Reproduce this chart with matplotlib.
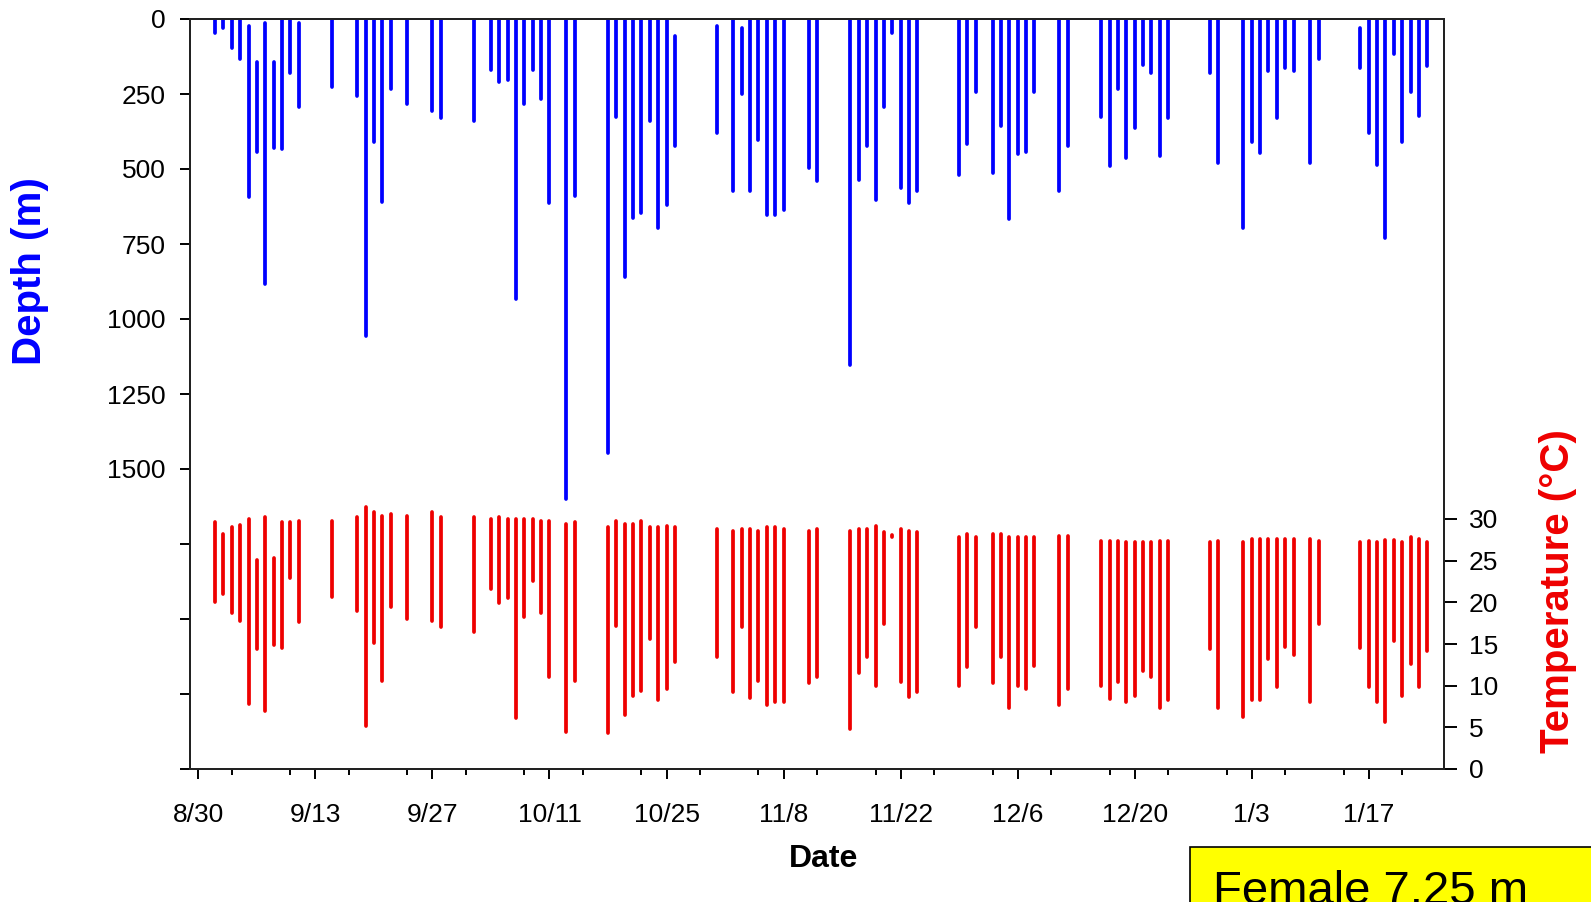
import matplotlib
matplotlib.use("Agg")
import matplotlib.pyplot as plt
from matplotlib.patches import Rectangle

plt.rcParams['font.family'] = ['Liberation Sans', 'DejaVu Sans']

# Day offsets from 8/30
days = [2, 3, 4, 5, 6, 7, 8, 9, 10, 11, 12, 16, 19, 20, 21, 22, 23, 25, 28, 29,
        33, 35, 36, 37, 38, 39, 40, 41, 42, 44, 45, 49, 50, 51, 52, 53, 54, 55, 56, 57,
        62, 64, 65, 66, 67, 68, 69, 70, 73, 74, 78, 79, 80, 81, 82, 83, 84, 85, 86,
        91, 92, 93, 95, 96, 97, 98, 99, 100, 103, 104, 108, 109, 110, 111, 112, 113, 114,
        115, 116, 121, 122, 125, 126, 127, 128, 129, 130, 131, 133, 134, 139, 140, 141,
        142, 143, 144, 145, 146, 147]

depth_min = [0, 0, 0, 0, 23, 142, 12, 142, 0, 0, 12, 0, 0, 0, 0, 0, 0, 0, 0, 0,
             0, 0, 0, 0, 0, 0, 0, 0, 0, 0, 0, 0, 0, 0, 0, 0, 0, 0, 0, 57,
             23, 0, 31, 0, 0, 0, 0, 0, 0, 0, 0, 0, 0, 0, 0, 0, 0, 0, 0,
             0, 0, 0, 0, 0, 0, 0, 0, 0, 0, 0, 0, 0, 0, 0, 0, 0, 0,
             0, 0, 0, 0, 0, 0, 0, 0, 0, 0, 0, 0, 0, 31, 0, 0,
             0, 0, 0, 0, 0, 0]

depth_max = [45, 30, 95, 133, 594, 442, 884, 431, 432, 179, 292, 227, 258, 1057, 409, 611, 233, 284, 308, 331,
             340, 170, 209, 203, 933, 284, 170, 267, 612, 1600, 590, 1448, 326, 861, 663, 646, 341, 698, 620, 423,
             381, 572, 251, 572, 403, 653, 653, 637, 498, 539, 1153, 537, 422, 603, 292, 46, 562, 612, 572,
             520, 417, 242, 514, 357, 668, 450, 442, 244, 572, 423, 326, 489, 234, 464, 362, 154, 179,
             457, 331, 179, 481, 698, 409, 448, 172, 331, 164, 172, 481, 134, 162, 381, 487,
             729, 116, 409, 244, 323, 155]

temp_max = [29.6, 28.2, 29.0, 29.3, 30.0, 25.1, 30.2, 25.3, 29.6, 29.6, 29.8, 29.8, 30.2, 31.4, 30.8, 30.4, 30.6, 30.4, 30.8, 30.2,
            30.2, 30.0, 30.2, 30.0, 30.0, 30.0, 30.0, 29.8, 29.8, 29.4, 29.6, 29.0, 29.8, 29.4, 29.4, 29.8, 29.0, 29.0, 29.2, 29.0,
            28.8, 28.6, 28.8, 28.8, 28.6, 29.0, 29.0, 28.8, 28.6, 28.8, 28.6, 28.8, 28.8, 29.2, 28.4, 28.1, 28.8, 28.6, 28.4,
            27.8, 28.2, 27.8, 28.2, 28.2, 27.8, 27.8, 27.8, 27.8, 28.0, 28.0, 27.4, 27.4, 27.4, 27.3, 27.3, 27.3, 27.3,
            27.4, 27.4, 27.3, 27.4, 27.3, 27.6, 27.6, 27.6, 27.6, 27.6, 27.6, 27.6, 27.4, 27.3, 27.4, 27.3,
            27.5, 27.5, 27.3, 27.8, 27.6, 27.2]

temp_min = [20.0, 21.0, 18.7, 17.8, 7.8, 14.4, 7.0, 14.9, 14.5, 22.9, 17.7, 20.6, 19.0, 5.2, 15.1, 10.6, 19.4, 18.0, 17.8, 17.1,
            16.5, 21.6, 19.9, 20.5, 6.1, 18.2, 22.6, 18.7, 11.0, 4.4, 10.6, 4.3, 17.2, 6.5, 8.8, 9.4, 15.6, 8.3, 9.6, 12.8,
            13.4, 9.2, 17.0, 8.5, 10.6, 7.7, 8.1, 8.0, 10.3, 11.0, 4.8, 11.5, 13.5, 10.0, 17.4, 27.8, 10.4, 8.7, 9.3,
            10.0, 12.2, 17.1, 10.3, 13.5, 7.3, 10.0, 9.6, 12.4, 7.7, 9.6, 10.0, 8.4, 10.4, 8.0, 8.8, 11.8, 11.0,
            7.3, 8.3, 14.4, 7.3, 6.3, 8.3, 8.3, 13.2, 9.8, 14.7, 13.7, 8.0, 17.4, 14.5, 9.8, 8.1,
            5.6, 15.4, 8.8, 12.6, 9.8, 14.2]

major_days = [0, 14, 28, 42, 56, 70, 84, 98, 112, 126, 140]
major_labels = ['8/30', '9/13', '9/27', '10/11', '10/25', '11/8', '11/22',
                '12/6', '12/20', '1/3', '1/17']
minor_days = list(range(4, 149, 7))
depth_ticks = list(range(0, 2501, 250))
depth_labels = [str(d) if d <= 1500 else '' for d in depth_ticks]
temp_ticks = [0, 5, 10, 15, 20, 25, 30]

W, H = 1591, 902
fig = plt.figure(figsize=(W / 100, H / 100), dpi=100)
L, R, T, B = 190, 1444, 19, 769
ax = fig.add_axes([L / W, 1 - B / H, (R - L) / W, (B - T) / H])
ax2 = ax.twinx()

ax.vlines(days, depth_min, depth_max, colors='#0000FF', linewidth=2.7,
          capstyle='round', zorder=3)
ax2.vlines(days, temp_min, temp_max, colors='#EE0000', linewidth=2.7,
           capstyle='round', zorder=3)

ax.set_xlim(-1, 149)
ax.set_ylim(2500, 0)
ax2.set_ylim(0, 90)

ax.set_xticks(major_days)
ax.set_xticklabels(major_labels)
ax.set_xticks(minor_days, minor=True)
ax.set_yticks(depth_ticks)
ax.set_yticklabels(depth_labels)
ax2.set_yticks(temp_ticks)
ax2.set_yticklabels([str(t) for t in temp_ticks])

fs = 19
ax.tick_params(axis='x', which='major', length=7.5, width=1.4, labelsize=fs, pad=17, direction='out')
ax.tick_params(axis='x', which='minor', length=4.5, width=1.4, direction='out')
ax.tick_params(axis='y', which='major', length=7.5, width=1.4, labelsize=fs, pad=10, direction='out')
ax2.tick_params(axis='y', which='major', length=9, width=1.4, labelsize=fs, pad=9, direction='out')

for a in (ax, ax2):
    for s in a.spines.values():
        s.set_linewidth(1.4)
        s.set_color('#222222')

fig.text(30 / W, 1 - 271 / H, 'Depth (m)', rotation=90, ha='center', va='center',
         color='#0000FF', fontsize=29, fontweight='bold')
fig.text(1558 / W, 1 - 591 / H, 'Temperature (°C)', rotation=90, ha='center', va='center',
         color='#EE0000', fontsize=29, fontweight='bold')
fig.text(824 / W, 1 - 859 / H, 'Date', ha='center', va='center',
         color='black', fontsize=23, fontweight='bold')

fig.patches.append(Rectangle((1190 / W, -0.05), 0.3, 1 - 847 / H + 0.05,
                             transform=fig.transFigure, facecolor='#FFFF00',
                             edgecolor='black', linewidth=1.2))
fig.text(1213 / W, 1 - 904 / H, 'Female 7.25 m', ha='left', va='baseline',
         color='black', fontsize=34)

fig.savefig('out.png', dpi=100)
